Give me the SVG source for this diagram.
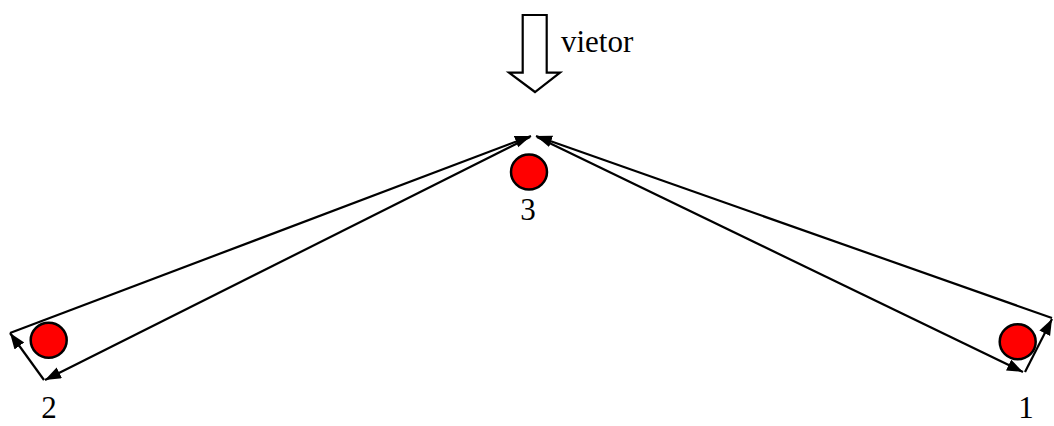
<svg xmlns="http://www.w3.org/2000/svg" width="1054" height="426" viewBox="0 0 1054 426">
<style>
.lbl{font-family:"Liberation Serif","Times New Roman",serif;font-size:31px;fill:#000}
.dot{fill:#ff0000;stroke:#000;stroke-width:2.5}
.ln{stroke:#000;stroke-width:2.2;fill:none;marker-end:url(#ah)}
</style>
<defs>
<marker id="ah" markerWidth="17" markerHeight="13" refX="16" refY="6" orient="auto" markerUnits="userSpaceOnUse">
<path d="M0,0 L16,6 L0,12 Z" fill="#000"/>
</marker>
</defs>
<rect width="1054" height="426" fill="#fff"/>
<g id="vector">
<polygon points="522.7,15 546.7,15 546.7,72.7 560,72.7 535,92 509,72.7 522.7,72.7" fill="#fff" stroke="#000" stroke-width="2.2"/>
<text class="lbl" x="561" y="52">vietor</text>
</g>
<g id="node3">
<ellipse class="dot" cx="529" cy="172" rx="18" ry="17.5"/>
<text class="lbl" x="528" y="220" text-anchor="middle">3</text>
</g>
<g id="node2">
<ellipse class="dot" cx="48.7" cy="340.3" rx="18" ry="17.5"/>
<text class="lbl" x="49" y="418" text-anchor="middle">2</text>
</g>
<g id="node1">
<ellipse class="dot" cx="1017.7" cy="341.7" rx="18" ry="17.5"/>
<text class="lbl" x="1026" y="418" text-anchor="middle">1</text>
</g>
<g id="connectors">
<line class="ln" x1="10" y1="333" x2="531" y2="136"/>
<line class="ln" x1="530" y1="137" x2="45" y2="380"/>
<line class="ln" x1="44" y1="380" x2="10" y2="333"/>
<line class="ln" x1="1052" y1="318" x2="536" y2="136"/>
<line class="ln" x1="537" y1="137" x2="1023" y2="372"/>
<line class="ln" x1="1025" y1="372" x2="1052" y2="319"/>
</g>
</svg>
